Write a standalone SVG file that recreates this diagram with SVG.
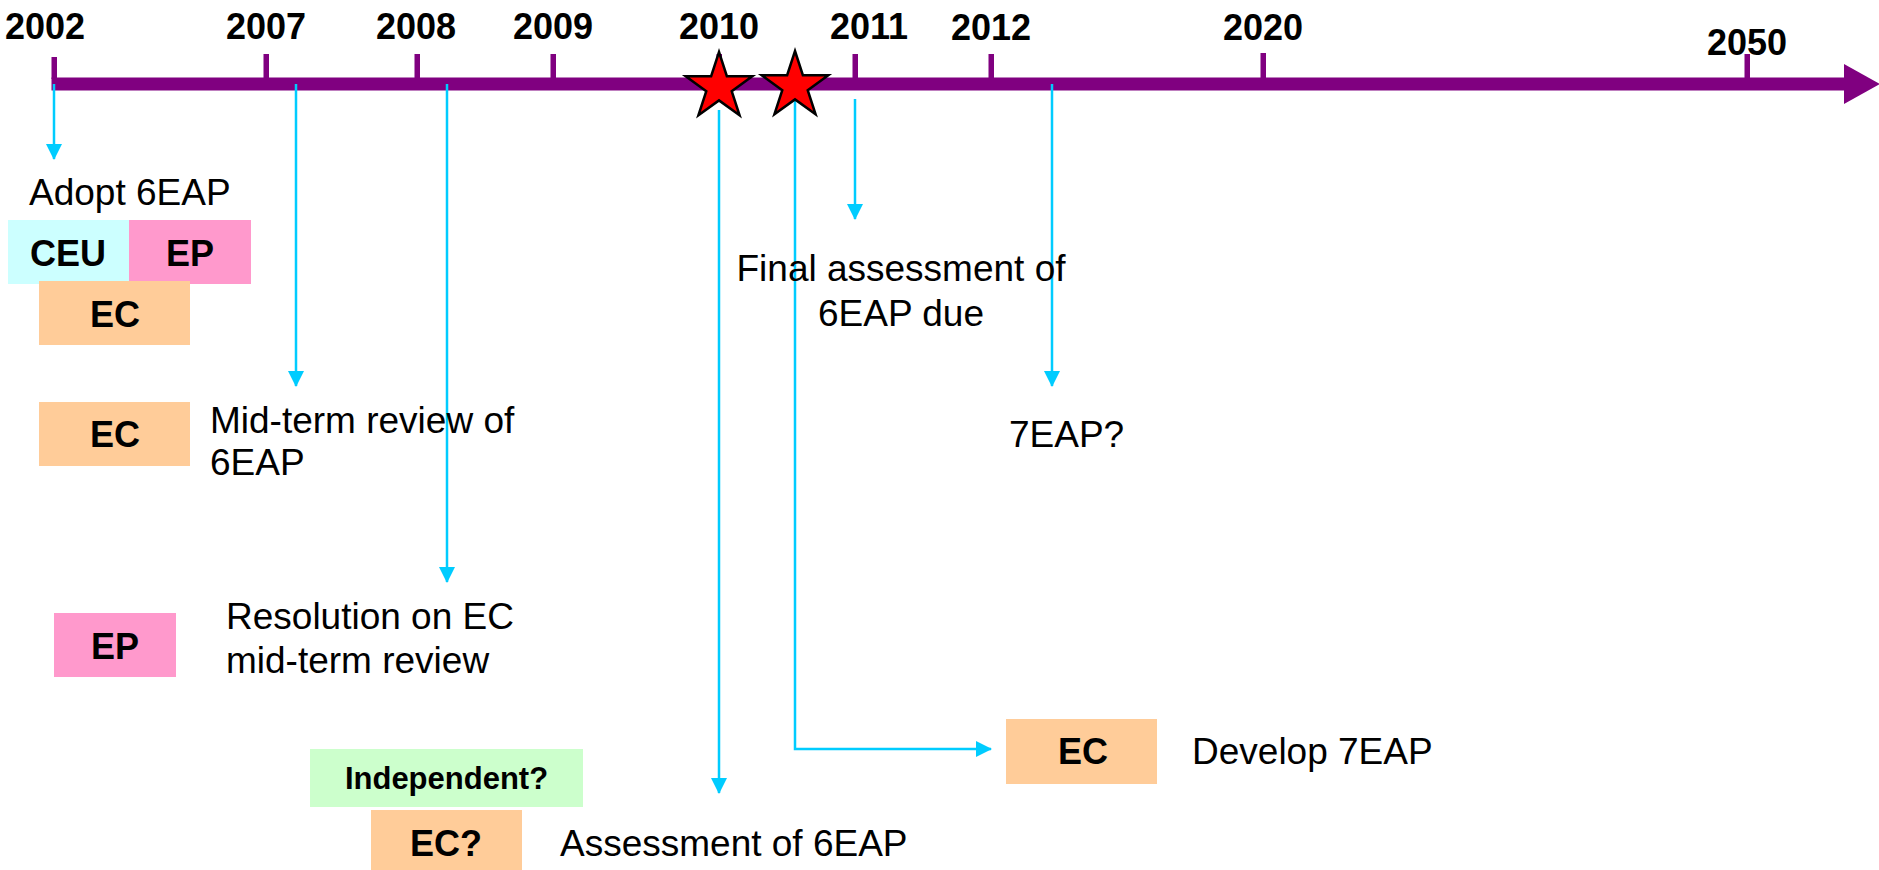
<svg xmlns="http://www.w3.org/2000/svg" width="1879" height="870" viewBox="0 0 1879 870">
<style>
text{font-family:"Liberation Sans",Arial,sans-serif;fill:#000}
.yr{font-size:36px;font-weight:bold;text-anchor:middle}
.lbl{font-size:37px}
.bx{font-size:36px;font-weight:bold;text-anchor:middle}
.tick{fill:#800080}
.con{stroke:#00CCFF;stroke-width:2.5;fill:none}
.star{fill:#FF0000;stroke:#000;stroke-width:2.5;stroke-linejoin:miter}
</style>
<defs>
<marker id="ah" markerWidth="16" markerHeight="16" refX="15" refY="8" orient="auto" markerUnits="userSpaceOnUse">
<path d="M0,0 L16,8 L0,16 z" fill="#00CCFF"/>
</marker>
<path id="st" d="M0,-35 L7.86,-10.82 L33.29,-10.82 L12.72,4.13 L20.57,28.32 L0,13.37 L-20.57,28.32 L-12.72,4.13 L-33.29,-10.82 L-7.86,-10.82 Z"/>
</defs>
<rect width="1879" height="870" fill="#fff"/>

<g id="timeline">
<rect class="tick" x="51.5" y="57" width="5.5" height="22"/>
<rect class="tick" x="263.5" y="54" width="5.5" height="25"/>
<rect class="tick" x="414.5" y="54" width="5.5" height="25"/>
<rect class="tick" x="550.5" y="54" width="5.5" height="25"/>
<rect class="tick" x="716.5" y="54" width="5.5" height="25"/>
<rect class="tick" x="852.5" y="54" width="5.5" height="25"/>
<rect class="tick" x="988.5" y="54" width="5.5" height="25"/>
<rect class="tick" x="1260.5" y="53" width="5.5" height="26"/>
<rect class="tick" x="1744.5" y="54" width="5.5" height="25"/>
<rect x="51.5" y="77.5" width="1793" height="13" fill="#800080"/>
<polygon points="1844,64 1880,84 1844,104" fill="#800080"/>
<text class="yr" x="45" y="39">2002</text>
<text class="yr" x="266" y="39">2007</text>
<text class="yr" x="416" y="39">2008</text>
<text class="yr" x="553" y="39">2009</text>
<text class="yr" x="719" y="39">2010</text>
<text class="yr" x="869" y="39">2011</text>
<text class="yr" x="991" y="40">2012</text>
<text class="yr" x="1263" y="40">2020</text>
<text class="yr" x="1747" y="55">2050</text>
</g>

<g id="connectors">
<line class="con" x1="54" y1="84" x2="54" y2="159" marker-end="url(#ah)"/>
<line class="con" x1="296" y1="84" x2="296" y2="386" marker-end="url(#ah)"/>
<line class="con" x1="447" y1="84" x2="447" y2="582" marker-end="url(#ah)"/>
<line class="con" x1="719" y1="110" x2="719" y2="793" marker-end="url(#ah)"/>
<polyline class="con" points="795,100 795,749 991,749" marker-end="url(#ah)"/>
<line class="con" x1="855" y1="99" x2="855" y2="219" marker-end="url(#ah)"/>
<line class="con" x1="1052" y1="84" x2="1052" y2="386" marker-end="url(#ah)"/>
</g>

<g id="stars">
<use href="#st" class="star" transform="translate(719,87)"/>
<use href="#st" class="star" transform="translate(795,86)"/>
</g>

<g id="adopt">
<text class="lbl" x="29" y="205">Adopt 6EAP</text>
<rect x="8" y="220" width="121" height="64" fill="#CCFFFF"/>
<text class="bx" x="68" y="266">CEU</text>
<rect x="129" y="220" width="122" height="64" fill="#FF99CC"/>
<text class="bx" x="190" y="266">EP</text>
<rect x="39" y="281" width="151" height="64" fill="#FFCC99"/>
<text class="bx" x="115" y="327">EC</text>
</g>

<g id="midterm">
<rect x="39" y="402" width="151" height="64" fill="#FFCC99"/>
<text class="bx" x="115" y="447">EC</text>
<text class="lbl" x="210" y="433">Mid-term review of</text>
<text class="lbl" x="210" y="475">6EAP</text>
</g>

<g id="resolution">
<rect x="54" y="613" width="122" height="64" fill="#FF99CC"/>
<text class="bx" x="115" y="659">EP</text>
<text class="lbl" x="226" y="629">Resolution on EC</text>
<text class="lbl" x="226" y="673">mid-term review</text>
</g>

<g id="assessment">
<rect x="310" y="749" width="273" height="58" fill="#CCFFCC"/>
<text class="bx" x="446.5" y="789" style="font-size:31px">Independent?</text>
<rect x="371" y="810" width="151" height="64" fill="#FFCC99"/>
<text class="bx" x="446" y="856">EC?</text>
<text class="lbl" x="560" y="856">Assessment of 6EAP</text>
</g>

<g id="final">
<text class="lbl" x="901" y="281" text-anchor="middle">Final assessment of</text>
<text class="lbl" x="901" y="326" text-anchor="middle">6EAP due</text>
</g>

<g id="develop">
<rect x="1006" y="719" width="151" height="65" fill="#FFCC99"/>
<text class="bx" x="1083" y="764">EC</text>
<text class="lbl" x="1192" y="764">Develop 7EAP</text>
</g>

<g id="seventh">
<text class="lbl" x="1009" y="447">7EAP?</text>
</g>
</svg>
